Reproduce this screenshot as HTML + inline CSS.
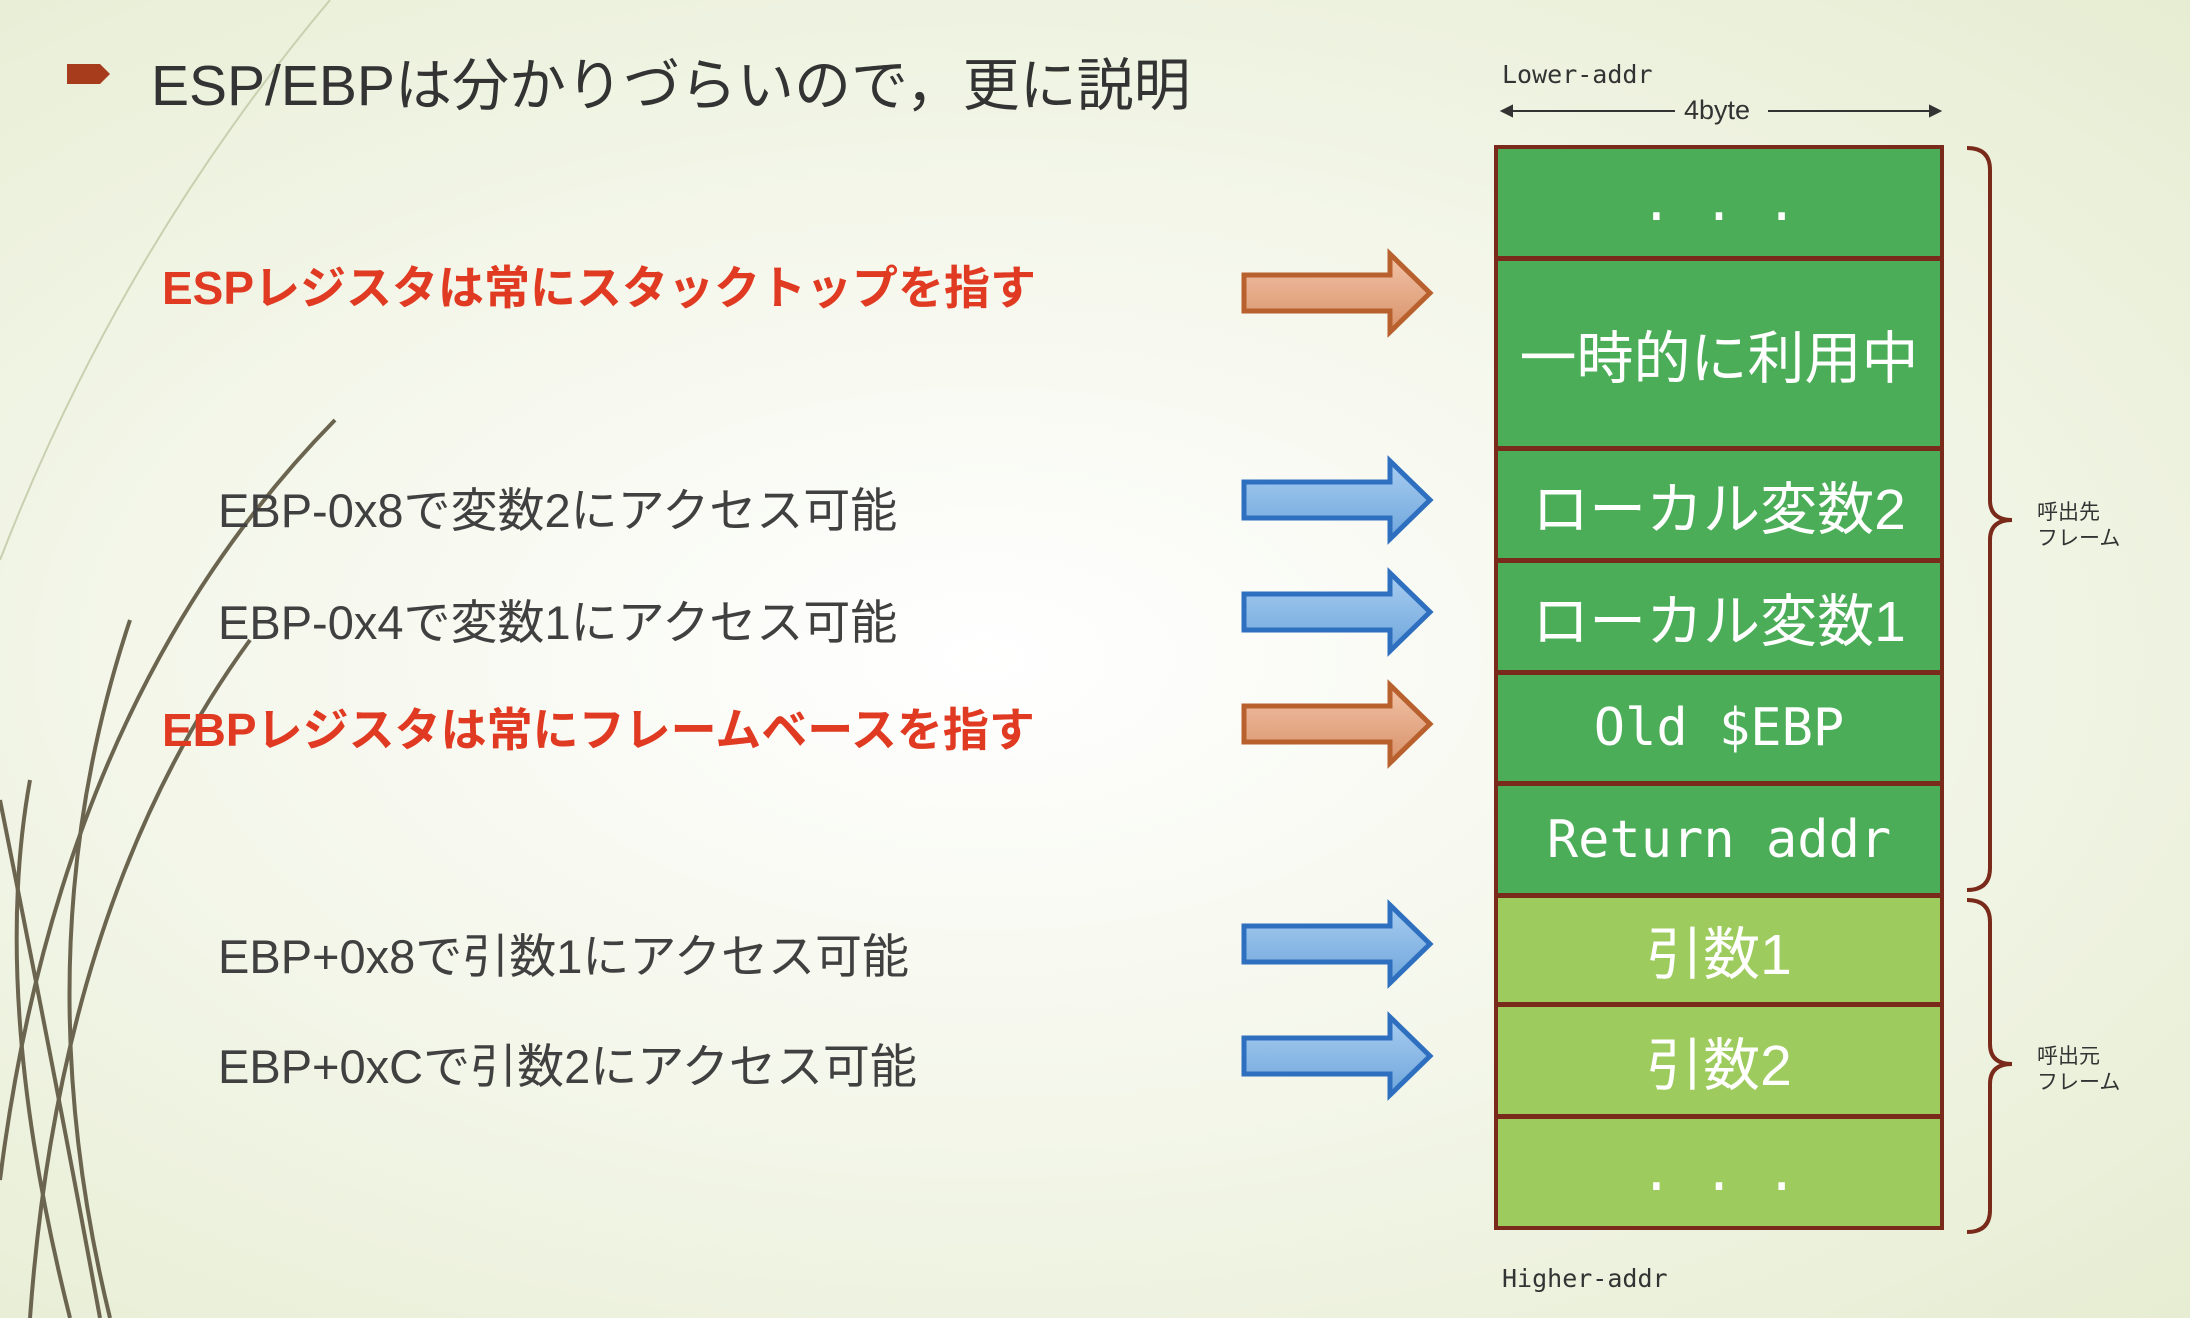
<!DOCTYPE html>
<html><head><meta charset="utf-8"><style>
body{margin:0;width:2190px;height:1318px;overflow:hidden;position:relative;
background:radial-gradient(ellipse at 45% 50%,#ffffff 0%,#f6f8ee 40%,#e6edd2 100%);
font-family:"Liberation Sans","Noto Sans CJK JP",sans-serif;}
.t{position:absolute;white-space:nowrap;}
.cell{position:absolute;left:1494px;width:450px;box-sizing:border-box;border:4px solid #7a2a1a;color:#fff;display:flex;align-items:center;justify-content:center;font-size:57px;}
.dg{background:#4cad58}.lg{background:#9ecb5e}
.mono{font-family:"DejaVu Sans Mono","Liberation Mono","Noto Sans CJK JP",monospace;font-size:52px;}
.red{color:#e03a22;font-weight:bold;font-size:46px;}
.gray{color:#404040;font-size:47px;}
</style></head><body>
<svg width="2190" height="1318" style="position:absolute;left:0;top:0">
<defs>
<linearGradient id="og" x1="0" y1="0" x2="0" y2="1"><stop offset="0" stop-color="#f2c4a8"/><stop offset="1" stop-color="#d8926a"/></linearGradient>
<linearGradient id="bg" x1="0" y1="0" x2="0" y2="1"><stop offset="0" stop-color="#a8cdf0"/><stop offset="1" stop-color="#6fa6dc"/></linearGradient>
</defs>
<g fill="none" stroke="#6b6550" stroke-width="4">
<path d="M0 1180 Q60 700 335 420"/>
<path d="M30 1318 Q60 900 250 640"/>
<path d="M110 1318 Q20 950 130 620"/>
<path d="M0 800 Q60 1100 100 1318"/>
<path d="M70 1318 Q-10 1000 30 780"/>
</g>
<path d="M0 560 Q120 250 330 0" fill="none" stroke="#c8d0b0" stroke-width="2"/>
<path d="M67 64 L100 64 L110 74 L100 84 L67 84 Z" fill="#a63c1c"/>
<g stroke-width="5" stroke-linejoin="miter">
<path d="M1244 275 L1390 275 L1390 254 L1430 293 L1390 332 L1390 311 L1244 311 Z" fill="url(#og)" stroke="#b8602e"/>
<path d="M1244 706 L1390 706 L1390 685 L1430 724 L1390 763 L1390 742 L1244 742 Z" fill="url(#og)" stroke="#b8602e"/>
<path d="M1244 482 L1390 482 L1390 461 L1430 500 L1390 539 L1390 518 L1244 518 Z" fill="url(#bg)" stroke="#2f6fbf"/>
<path d="M1244 594 L1390 594 L1390 573 L1430 612 L1390 651 L1390 630 L1244 630 Z" fill="url(#bg)" stroke="#2f6fbf"/>
<path d="M1244 926 L1390 926 L1390 905 L1430 944 L1390 983 L1390 962 L1244 962 Z" fill="url(#bg)" stroke="#2f6fbf"/>
<path d="M1244 1038 L1390 1038 L1390 1017 L1430 1056 L1390 1095 L1390 1074 L1244 1074 Z" fill="url(#bg)" stroke="#2f6fbf"/>
</g>
<g fill="none" stroke="#7a2a1a" stroke-width="4">
<path d="M1967 148 Q1990 148 1990 170 L1990 500 Q1990 520 2012 520 Q1990 520 1990 540 L1990 868 Q1990 890 1967 890"/>
<path d="M1967 900 Q1990 900 1990 922 L1990 1044 Q1990 1064 2012 1064 Q1990 1064 1990 1084 L1990 1210 Q1990 1232 1967 1232"/>
</g>
<g stroke="#333" stroke-width="2" fill="#333">
<line x1="1504" y1="111" x2="1675" y2="111"/><line x1="1768" y1="111" x2="1936" y2="111"/>
<path d="M1502 111 l10 -5 v10 z"/><path d="M1940 111 l-10 -5 v10 z"/>
</g>
</svg>
<div class="t" style="left:151px;top:40px;font-size:57px;color:#333">ESP/EBPは分かりづらいので，更に説明</div>
<div class="t" style="left:1502px;top:60px;font-size:25px;color:#333;font-family:'DejaVu Sans Mono',monospace">Lower-addr</div>
<div class="t" style="left:1684px;top:95px;font-size:27px;color:#333">4byte</div>
<div class="t" style="left:1502px;top:1264px;font-size:25px;color:#333;font-family:'DejaVu Sans Mono',monospace">Higher-addr</div>
<div class="t" style="left:2037px;top:500px;font-size:21px;color:#333;line-height:26px">呼出先<br>フレーム</div>
<div class="t" style="left:2037px;top:1044px;font-size:21px;color:#333;line-height:26px">呼出元<br>フレーム</div>
<div class="t red" style="left:162px;top:252px">ESPレジスタは常にスタックトップを指す</div>
<div class="t gray" style="left:218px;top:472px">EBP-0x8で変数2にアクセス可能</div>
<div class="t gray" style="left:218px;top:584px">EBP-0x4で変数1にアクセス可能</div>
<div class="t red" style="left:162px;top:694px">EBPレジスタは常にフレームベースを指す</div>
<div class="t gray" style="left:218px;top:918px">EBP+0x8で引数1にアクセス可能</div>
<div class="t gray" style="left:218px;top:1028px">EBP+0xCで引数2にアクセス可能</div>
<div class="cell dg mono" style="top:145px;height:115px">. . .</div>
<div class="cell dg" style="top:257px;height:193px">一時的に利用中</div>
<div class="cell dg" style="top:447px;height:115px">ローカル変数2</div>
<div class="cell dg" style="top:559px;height:115px">ローカル変数1</div>
<div class="cell dg mono" style="top:671px;height:114px">Old $EBP</div>
<div class="cell dg mono" style="top:782px;height:115px">Return addr</div>
<div class="cell lg" style="top:894px;height:112px">引数1</div>
<div class="cell lg" style="top:1003px;height:115px">引数2</div>
<div class="cell lg mono" style="top:1115px;height:115px">. . .</div>
</body></html>
